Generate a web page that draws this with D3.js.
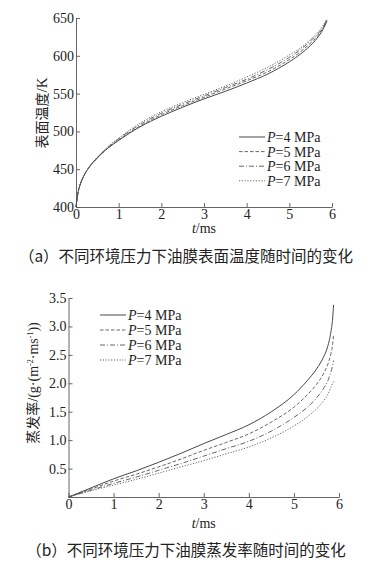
<!DOCTYPE html>
<html>
<head>
<meta charset="utf-8">
<script src="https://cdn.jsdelivr.net/npm/d3@7"></script>
<style>
body { margin: 0; background: #fff; }
svg { display: block; }
text { font-family: "Liberation Serif", "Times New Roman", serif; fill: #222; }
.cjk { font-family: "Noto Sans CJK SC", sans-serif; }
.ser { font-family: "Liberation Serif", serif; }
</style>
</head>
<body>
<div id="chart"></div>
<script>
{
const width = 375;
const height = 570;

// legend / series names
const pressures = ['4', '5', '6', '7'];
const dashes = [null, '3.5,2', '5,2,1,2', '1.2,1.6'];

// (a) surface temperature, K, vs t/ms
const tempT = [0, 0.05, 0.1, 0.2, 0.3, 0.5, 0.75, 1, 1.5, 2, 2.5, 3, 3.5, 4, 4.5, 5, 5.3, 5.5, 5.7, 5.8, 5.88];
const tempP4 = [400, 420, 430, 443, 452, 465, 478, 488, 506, 520, 532, 543, 553, 564, 576, 592, 604, 614, 627, 636, 646];
const tempP5 = [400, 420, 430, 443, 452, 465, 478, 489, 507, 522, 534, 545, 556, 567, 579, 595, 607, 617, 629, 638, 647];
const tempP6 = [400, 420, 430, 443, 452, 465, 479, 490, 509, 524, 536, 547, 558, 569, 582, 598, 610, 620, 631, 639, 648];
const tempP7 = [400, 420, 430, 443, 452, 466, 480, 491, 511, 526, 538, 549, 560, 572, 585, 601, 612, 622, 633, 641, 649];

// (b) evaporation rate vs t/ms
const rateT = [0, 0.5, 1, 1.5, 2, 2.5, 3, 3.5, 4, 4.5, 5, 5.3, 5.5, 5.65, 5.75, 5.82, 5.86, 5.88];
const rateP4 = [0, 0.16, 0.32, 0.46, 0.61, 0.77, 0.94, 1.1, 1.27, 1.5, 1.8, 2.05, 2.25, 2.45, 2.65, 2.9, 3.15, 3.38];
const rateP5 = [0, 0.14, 0.28, 0.4, 0.53, 0.67, 0.82, 0.96, 1.11, 1.32, 1.58, 1.8, 1.98, 2.16, 2.33, 2.52, 2.7, 2.87];
const rateP6 = [0, 0.12, 0.24, 0.35, 0.47, 0.59, 0.72, 0.85, 0.98, 1.16, 1.4, 1.58, 1.74, 1.9, 2.04, 2.2, 2.32, 2.4];
const rateP7 = [0, 0.11, 0.21, 0.31, 0.42, 0.53, 0.64, 0.76, 0.88, 1.04, 1.25, 1.41, 1.55, 1.68, 1.8, 1.93, 2.0, 2.03];

const xTicks = [0, 1, 2, 3, 4, 5, 6];
const tempTicks = [400, 450, 500, 550, 600, 650];
const rateTicks = [0.5, 1.0, 1.5, 2.0, 2.5, 3.0, 3.5];

let svg = d3.select('#chart')
    .append('svg')
    .attr('width', width)
    .attr('height', height);

function drawPanel(opt) {
    let g = svg.append('g');
    let x = d3.scaleLinear().domain([0, 6]).range([opt.left, opt.right]);
    let y = d3.scaleLinear().domain(opt.yDomain).range([opt.bottom, opt.top]);

    let xa = g.append('g')
        .attr('transform', `translate(0, ${opt.bottom})`)
        .call(d3.axisBottom(x).tickValues(xTicks).tickSizeInner(-4).tickSizeOuter(0).tickPadding(2).tickFormat(d3.format('d')));
    let ya = g.append('g')
        .attr('transform', `translate(${opt.left}, 0)`)
        .call(d3.axisLeft(y).tickValues(opt.yTicks).tickSizeInner(-4).tickSizeOuter(0).tickPadding(2).tickFormat(opt.fmt));
    [xa, ya].forEach(a => {
        a.selectAll('path, line').attr('stroke', '#555').attr('stroke-width', 0.9);
        a.selectAll('text').style('font-family', '"Liberation Serif", serif').style('font-size', '14px').attr('fill', '#222');
    });

    let line = d3.line()
        .x((d, i) => x(opt.t[i]))
        .y(d => y(d))
        .curve(d3.curveMonotoneX);

    opt.series.forEach((s, i) => {
        g.append('path')
            .datum(s)
            .attr('d', line)
            .attr('fill', 'none')
            .attr('stroke', i === 0 ? '#333' : '#555')
            .attr('stroke-width', 0.9)
            .attr('stroke-dasharray', dashes[i]);
    });

    // legend
    pressures.forEach((p, i) => {
        let ly = opt.legY + i * opt.legStep;
        g.append('line')
            .attr('x1', opt.legX).attr('x2', opt.legX + 26)
            .attr('y1', ly).attr('y2', ly)
            .attr('stroke', i === 0 ? '#333' : '#555')
            .attr('stroke-width', 0.9)
            .attr('stroke-dasharray', dashes[i]);
        let t = g.append('text')
            .attr('x', opt.legX + 28).attr('y', ly + 5)
            .style('font-size', '14px');
        t.append('tspan').style('font-style', 'italic').text('P');
        t.append('tspan').text(`=${p} MPa`);
    });

    // x label
    let xl = g.append('text')
        .attr('x', (opt.left + opt.right) / 2)
        .attr('y', opt.xLabelY)
        .attr('text-anchor', 'middle')
        .style('font-size', '14px');
    xl.append('tspan').style('font-style', 'italic').text('t');
    xl.append('tspan').text('/ms');

    // caption
    svg.append('text')
        .attr('class', 'cjk')
        .attr('x', 186)
        .attr('y', opt.capY)
        .attr('text-anchor', 'middle')
        .style('font-size', '15.5px')
        .attr('fill', '#333')
        .text(opt.caption);
    return g;
}

drawPanel({
    left: 76, right: 332, top: 18, bottom: 207,
    yDomain: [400, 650], yTicks: tempTicks, fmt: d3.format('d'),
    t: tempT, series: [tempP4, tempP5, tempP6, tempP7],
    legX: 239, legY: 137, legStep: 14.6, xLabelY: 233,
    capY: 262, caption: '（a）不同环境压力下油膜表面温度随时间的变化'
});

drawPanel({
    left: 68.5, right: 339, top: 298, bottom: 497,
    yDomain: [0, 3.5], yTicks: rateTicks, fmt: d3.format('.1f'),
    t: rateT, series: [rateP4, rateP5, rateP6, rateP7],
    legX: 100, legY: 315, legStep: 15, xLabelY: 528,
    capY: 556, caption: '（b）不同环境压力下油膜蒸发率随时间的变化'
});

// y labels
let yt = svg.append('text')
    .attr('class', 'cjk')
    .attr('transform', 'translate(47, 113) rotate(-90)')
    .attr('text-anchor', 'middle')
    .style('font-size', '14px')
    .attr('fill', '#333');
yt.append('tspan').text('表面温度');
yt.append('tspan').attr('class', 'ser').style('font-size', '15px').text('/K');

let yl = svg.append('text')
    .attr('class', 'cjk')
    .attr('transform', 'translate(38, 383) rotate(-90)')
    .attr('text-anchor', 'middle')
    .style('font-size', '14px')
    .attr('fill', '#333');
yl.append('tspan').text('蒸发率');
yl.append('tspan').attr('class', 'ser').text('/(g·(m');
yl.append('tspan').attr('class', 'ser').attr('dy', -5).style('font-size', '8px').text('-2');
yl.append('tspan').attr('class', 'ser').attr('dy', 5).text('·ms');
yl.append('tspan').attr('class', 'ser').attr('dy', -5).style('font-size', '8px').text('-1');
yl.append('tspan').attr('class', 'ser').attr('dy', 5).text('))');
}
</script>
</body>
</html>
